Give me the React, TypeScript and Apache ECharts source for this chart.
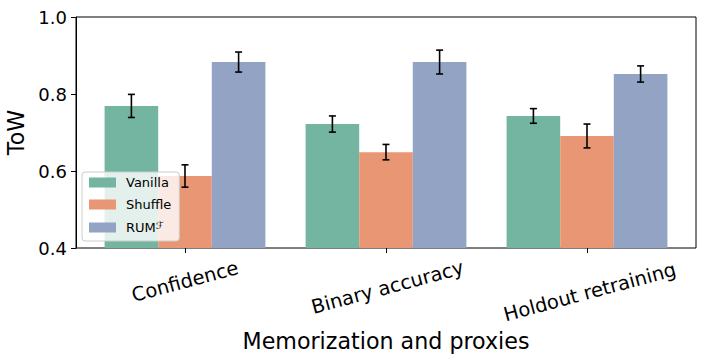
import React, { useEffect, useRef } from "react";
import * as echarts from "echarts";

const categories = ["Confidence", "Binary accuracy", "Holdout retraining"];
const seriesNames = ["Vanilla", "Shuffle", "RUM"];
const vanilla = [0.769, 0.722, 0.743];
const vanillaErr = [0.030, 0.021, 0.019];
const shuffle = [0.587, 0.649, 0.691];
const shuffleErr = [0.029, 0.020, 0.031];
const rum = [0.883, 0.883, 0.852];
const rumErr = [0.026, 0.031, 0.021];
const yTicks = [0.4, 0.6, 0.8, 1.0];

const colors = ["#73b5a0", "#e89674", "#93a3c3"];

export default function App() {
  const ref = useRef<HTMLDivElement>(null);
  useEffect(() => {
    if (!ref.current) return;
    const chart = echarts.init(ref.current, null, { renderer: "svg" });
    const values = [vanilla, shuffle, rum];
    const errs = [vanillaErr, shuffleErr, rumErr];
    const errData: any[] = [];
    values.forEach((arr, s) =>
      arr.forEach((v, i) => errData.push([i, v, errs[s][i], s]))
    );
    const font = "DejaVu Sans";
    const labelFont = 19.5;
    const tok = (pad: number) => ({
      fontSize: labelFont, lineHeight: 23, fontFamily: font, color: "#000",
      padding: [pad, 0, 0, 0],
    });
    const option: any = {
      animation: false,
      backgroundColor: "#fff",
      textStyle: { fontFamily: font },
      grid: [
        {
          left: 76, top: 17, width: 620, height: 231,
          show: true, borderColor: "#000", borderWidth: 1,
          backgroundColor: "transparent",
          outerBoundsMode: "none", containLabel: false,
        },
        {
          left: 84.5, top: 17, width: 603, height: 231,
          outerBoundsMode: "none", containLabel: false,
        },
      ],
      xAxis: [
        { type: "value", gridIndex: 0, show: false, min: 0, max: 1 },
        {
          type: "category",
          gridIndex: 1,
          data: categories,
          axisLine: { show: false },
          axisTick: { show: true, alignWithLabel: true, length: 5, lineStyle: { color: "#000", width: 1 } },
          axisLabel: {
            rotate: 15, align: "center", verticalAlign: "middle",
            margin: 33.5, fontSize: labelFont, color: "#000", fontFamily: font,
            interval: 0, hideOverlap: false,
            formatter: (v: string, i: number) => `{p${i}|${v}}`,
            rich: { p0: tok(0), p1: tok(12.2), p2: tok(22) },
          },
          name: "Memorization and proxies",
          nameLocation: "middle",
          nameGap: 78,
          nameTextStyle: { fontSize: 22.2, color: "#000", fontFamily: font, verticalAlign: "top" },
        },
      ],
      yAxis: [
        {
          type: "value", gridIndex: 0, min: 0.4, max: 1.0, interval: 0.2,
          axisLine: { show: true, lineStyle: { color: "#000", width: 1 } },
          axisTick: { show: true, length: 5, lineStyle: { color: "#000", width: 1 } },
          splitLine: { show: false },
          axisLabel: {
            margin: 9, fontSize: 18, color: "#000", fontFamily: font,
            formatter: (v: number) => yTicks.find((t) => Math.abs(t - v) < 1e-6)?.toFixed(1) ?? "",
          },
          name: "ToW",
          nameLocation: "middle",
          nameGap: 46,
          nameTextStyle: { fontSize: 22.2, color: "#000", fontFamily: font },
        },
        { type: "value", gridIndex: 1, min: 0.4, max: 1.0, show: false },
      ],
      legend: {
        data: seriesNames,
        orient: "vertical",
        left: 82, top: 172,
        padding: [4, 8, 4, 7],
        itemWidth: 27, itemHeight: 10, itemGap: 9,
        icon: "rect",
        backgroundColor: "rgba(255,255,255,0.8)",
        borderColor: "#cccccc", borderWidth: 1, borderRadius: 3,
        z: 20,
        formatter: (n: string) => (n === "RUM" ? "{b|RUM}{sup|ℱ}" : "{b|" + n + "}"),
        textStyle: {
          fontSize: 13, color: "#000", fontFamily: font, padding: [0, 0, 0, 5],
          rich: {
            b: { fontSize: 13, lineHeight: 15, fontFamily: font, color: "#000" },
            sup: { fontSize: 10, lineHeight: 15, verticalAlign: "top", padding: [0, 0, 7, 0], fontFamily: font, fontStyle: "italic", color: "#000" },
          },
        },
      },
      series: [
        ...seriesNames.map((n, s) => ({
          name: n,
          type: "bar",
          xAxisIndex: 1, yAxisIndex: 1,
          data: values[s],
          barWidth: "26.67%",
          barGap: "0%",
          itemStyle: { color: colors[s] },
          z: 2,
        })),
        {
          type: "custom",
          xAxisIndex: 1, yAxisIndex: 1,
          data: errData,
          z: 5,
          renderItem: (params: any, api: any) => {
            const i = api.value(0), v = api.value(1), e = api.value(2), s = api.value(3);
            const band = api.size([1, 0])[0];
            const off = (s - 1) * band * 0.8 / 3;
            const c = api.coord([i, v]);
            const top = api.coord([i, v + e])[1];
            const bot = api.coord([i, v - e])[1];
            const x = c[0] + off;
            const cap = 3.5;
            const st = { stroke: "#000", lineWidth: 1.6 };
            return {
              type: "group",
              children: [
                { type: "line", shape: { x1: x, y1: top, x2: x, y2: bot }, style: st },
                { type: "line", shape: { x1: x - cap, y1: top, x2: x + cap, y2: top }, style: st },
                { type: "line", shape: { x1: x - cap, y1: bot, x2: x + cap, y2: bot }, style: st },
              ],
            };
          },
        },
      ],
    };
    chart.setOption(option);
    return () => chart.dispose();
  }, []);
  return (
    <div
      ref={ref}
      style={{ position: "fixed", left: 0, top: 0, width: 706, height: 358 }}
    />
  );
}
